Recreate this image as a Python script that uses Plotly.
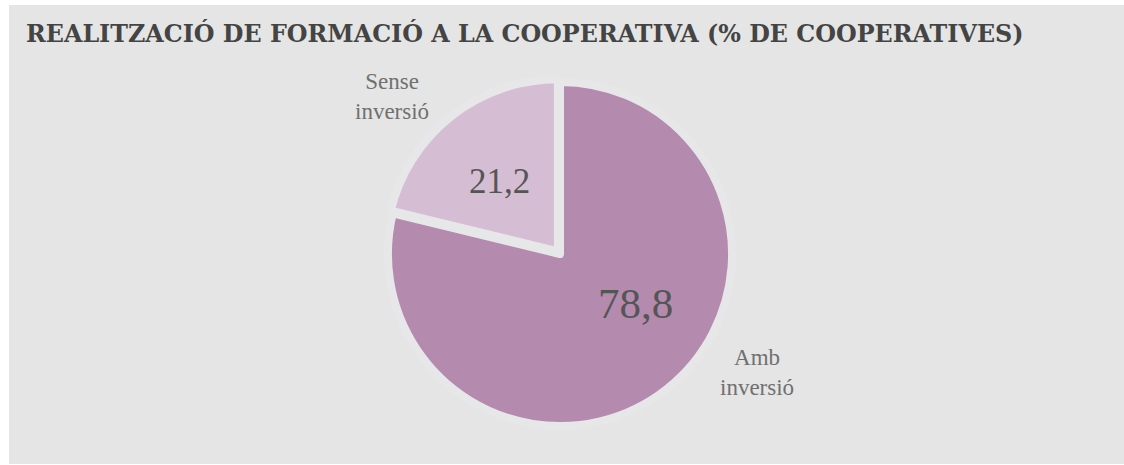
import plotly.graph_objects as go

labels = ["Amb inversió", "Sense inversió"]
label_lines = ["Amb<br>inversió", "Sense<br>inversió"]
values = [78.8, 21.2]
colors = ["#b48aae", "#d5bdd4"]
title = "REALITZACIÓ DE FORMACIÓ A LA COOPERATIVA (% DE COOPERATIVES)"

W, H = 1124, 465
ML, MT, MR, MB = 9, 5, 0, 1
PW, PH = W - ML - MR, H - MT - MB

def px(x):
    return (x - ML) / PW

def py(y):
    return 1 - (y - MT) / PH

fig = go.Figure()
cx, cy, half = 560, 254, 175.5
fig.add_trace(go.Pie(
    labels=labels, values=values, sort=False, direction="clockwise", rotation=0,
    marker=dict(colors=colors, line=dict(color="#e7e7e9", width=8)),
    pull=[0, 0.02], textinfo="none", hoverinfo="label+value",
    domain=dict(x=[px(cx - 300), px(cx + 300)], y=[py(cy + half), py(cy - half)]),
    showlegend=False,
))

fmt = lambda v: f"{v:.1f}".replace(".", ",")
val_pos = [(635, 303, 43), (499, 182, 35)]
lab_pos = [(757, 372), (392, 96)]
ann = []
for i in range(len(values)):
    x, y, s = val_pos[i]
    ann.append(dict(x=px(x), y=py(y), xref="paper", yref="paper", text=fmt(values[i]),
                    xanchor="center", yanchor="middle", showarrow=False,
                    font=dict(family="Liberation Serif", size=s, color="#555555")))
    lx, ly = lab_pos[i]
    ann.append(dict(x=px(lx), y=py(ly), xref="paper", yref="paper", text=label_lines[i],
                    xanchor="center", yanchor="middle", showarrow=False, align="center",
                    font=dict(family="Liberation Serif", size=23, color="#707070")))
ann.append(dict(x=px(24), y=py(33), xref="paper", yref="paper", xanchor="left", yanchor="middle",
                text=f"<b>{title}</b>", showarrow=False,
                font=dict(family="DejaVu Serif", size=23.8, color="#444444")))

fig.update_layout(
    width=W, height=H, margin=dict(l=ML, r=MR, t=MT, b=MB),
    paper_bgcolor="white", plot_bgcolor="#e5e5e5",
    shapes=[dict(type="rect", xref="paper", yref="paper", x0=0, x1=1, y0=0, y1=1,
                 fillcolor="#e5e5e5", line=dict(width=0), layer="below")],
    annotations=ann,
)
fig.write_html("out.html", config={"displayModeBar": False},
               post_script="document.body.style.margin='0';document.body.style.overflow='hidden';")
